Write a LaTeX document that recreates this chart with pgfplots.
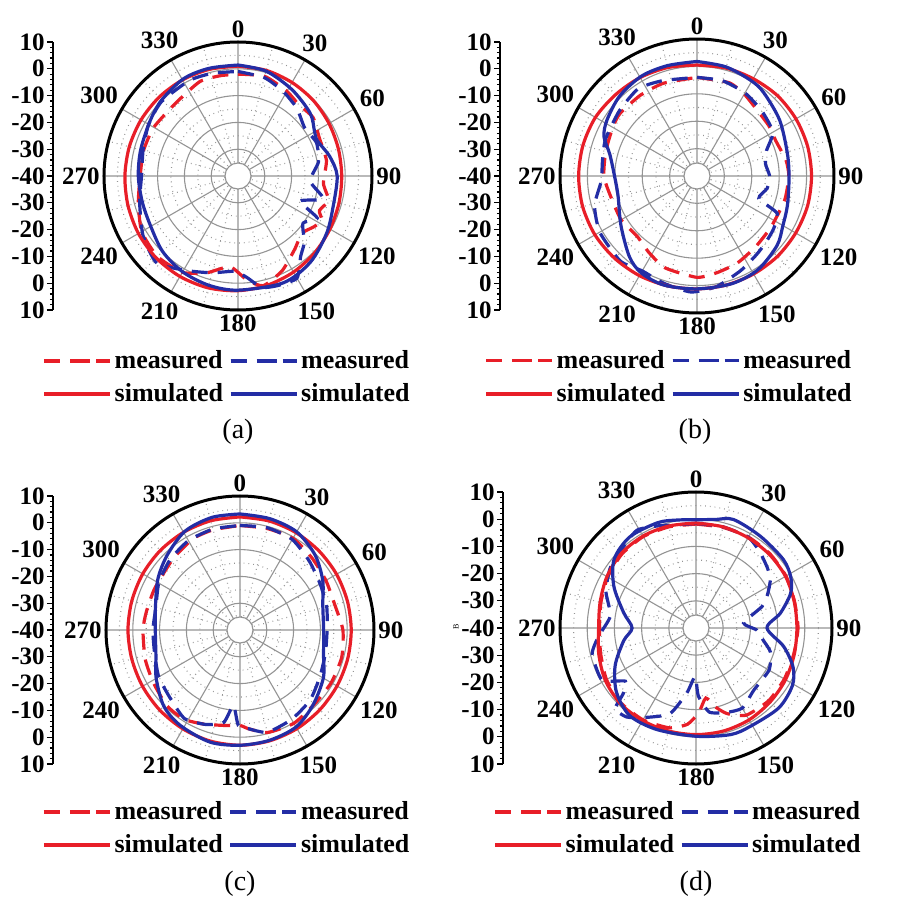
\documentclass[border=0pt]{standalone}
\usepackage{pgfplots}
\pgfplotsset{compat=1.18}
\usepackage{pgfplotstable}
\usepgfplotslibrary{polar}
\usepackage{fontspec}
\setmainfont{Liberation Serif}
\definecolor{rc}{RGB}{232,30,40}
\definecolor{bc}{RGB}{35,45,165}
\newcommand{\ticklab}{\fontsize{12.5}{14}\selectfont\bfseries}
\newcommand{\legfont}{\fontsize{13}{15}\selectfont\bfseries}

% ---------------- panel (a) ----------------
\pgfplotstableread{
a db
0 -2
15 -1.5
30 -3.5
40 -5
52 -4.5
65 -6.5
80 -6.5
95 -8
105 -5
113 -7
118 -4.5
124 -6
132 -8
142 -5.5
155 -1
167 2
175 -1
185 -6
198 -2
210 1.5
225 2.5
240 1.5
255 -1.5
270 -3.5
285 -3.5
300 -3.7
320 -4.2
338 -2
350 -2
360 -2
}\aRM
\pgfplotstableread{
a db
0 -1
15 -2
28 -4.2
41 -6.5
54 -9.3
67 -8.2
80 -9.5
94 -13
105 -7
112 -15
118 -6.5
126 -10
135 -5
142 -2
150 4
160 3.5
168 2.5
175 -2
182 -4.4
195 -2.6
208 0
223 4.4
238 1.8
255 -2
270 -4
286 -3.2
300 -1.5
314 -0.2
333 0
346 -0.5
360 -1
}\aBM
\pgfplotstableread{
a db
0 1.0
15 0.8
30 0.3
45 -0.2
60 -0.8
75 -1.2
90 -1.3
105 -1.0
120 -0.4
135 0.5
150 1.4
165 2.2
180 2.8
195 3.2
210 3.3
225 3.2
240 2.9
255 2.5
270 2.2
285 2.0
300 1.8
315 1.6
330 1.4
345 1.2
360 1.0
}\aRS
\pgfplotstableread{
a db
0 1.4
15 0.5
32 -2.0
49 -4.3
60 -7.0
66 -7.6
78 -5.0
90 -3.0
108 -2.7
123 -0.6
140 2.0
157 3.3
180 2.6
195 2.2
210 1.3
225 -0.2
241 -2.5
255 -3.0
270 -2.8
285 -2.4
302 -1.3
315 0.2
331 1.6
345 1.6
360 1.4
}\aBS

% ---------------- panel (b) ----------------
\pgfplotstableread{
a db
0 -4
19 -4
30 -5.5
41 -7.3
55 -8
66 -8.5
80 -7
90 -6.5
105 -6.8
124 -7.2
140 -6.5
155 -5
168 -4
180 -3
199 -4.5
212 -7
225 -9
240 -8
258 -7.5
270 -6
285 -5.5
300 -4.5
309 -3.8
325 -4
340 -4
360 -4
}\bRM
\pgfplotstableread{
a db
0 -4
15 -4
30 -5
45 -6.5
60 -8
70 -13
80 -14.6
90 -13.5
100 -14
110 -16
115 -7.7
125 -6
135 -5
143 -4
155 -2
170 1
183 2.4
197 1
210 0
222 1.8
240 1
254 -1.1
267 -5
280 -5
292 -4
310 -3
326 -1.6
340 -3
360 -4
}\bBM
\pgfplotstableread{
a db
0 0.5
15 0.8
30 1.0
45 1.5
60 1.7
75 1.8
90 1.8
105 1.8
120 1.6
135 1.5
150 1.3
165 1.2
180 1.2
195 1.5
210 2.0
225 2.5
240 3.0
255 3.2
270 3.2
285 3.1
300 2.8
315 2.0
330 1.5
345 1.0
360 0.5
}\bRS
\pgfplotstableread{
a db
0 1.8
15 1.2
30 0
39 -1.1
56 -3.6
76 -6
91 -6.4
108 -5.3
120 -3.8
131 -1.3
147 0.8
162 1.3
180 1.2
197 1.6
210 0.8
220 -1.6
237 -6.9
256 -10.3
269 -10
284 -7.2
293 -3.1
302 -1.3
316 0.6
331 1.7
345 1.7
360 1.8
}\bBS

% ---------------- panel (c) ----------------
\pgfplotstableread{
a db
0 -1
15 -0.8
30 -0.5
45 -2
60 -3
75 -3.4
90 -1.6
105 -0.7
120 -0.7
135 -0.8
150 0.2
165 -0.4
175 -3
180 -4.4
188 -4
201 -2.4
212 -0.7
224 -0.7
239 -2.2
253 -3
270 -3.8
281 -4.4
296 -4.6
317 -3.5
333 -1.7
345 -1.3
360 -1
}\cRM
\pgfplotstableread{
a db
0 -1
15 -0.5
30 -1
45 -3.5
60 -5.5
75 -6.5
90 -7.5
105 -7
120 -5.5
135 -3
150 -1.5
165 -0.5
175 -3
181 -4.4
185 -11.8
190 -5
200 -2.5
212 -1
225 -3.5
240 -5
255 -7
270 -7.5
285 -7.5
300 -5
315 -3
330 -1.5
345 -1
360 -1
}\cBM
\pgfplotstableread{
a db
0 2.2
15 2.1
30 1.9
45 1.7
60 1.6
75 1.5
90 1.5
105 1.6
120 1.8
135 2.1
150 2.5
165 2.8
180 3.0
195 2.9
210 2.6
225 2.3
240 2.0
255 1.8
270 1.8
285 1.8
300 1.9
315 2.0
330 2.1
345 2.2
360 2.2
}\cRS
\pgfplotstableread{
a db
0 3.3
15 3.0
30 2.3
45 -0.4
59 -4
73 -7.7
90 -8.8
107 -7.4
120 -4.1
136 -0.9
150 1.8
165 2.6
180 3.0
195 3.3
212 2.0
225 0.2
240 -3.9
253 -7.2
270 -8.4
286 -7.2
302 -3.9
316 -1.0
331 2.2
346 3.3
360 3.3
}\cBS

% ---------------- panel (d) ----------------
\pgfplotstableread{
a db
0 -1.8
15 -1.7
30 -1.4
45 -1.5
60 -1.8
75 -2.5
90 -2.5
105 -2.8
120 -2.5
135 -2.2
150 -3
160 -6.5
166 -10
172 -14
178 -9
185 -4.5
195 -2
210 -1
225 -1
240 -2
255 -3.7
270 -4.5
285 -3.8
300 -2.5
315 -1.5
330 -1.2
345 -1.5
360 -1.8
}\dRM
\pgfplotstableread{
a db
0 -1.5
15 -1.5
30 -1.5
40 -3.5
50 -5.7
57 -7.4
65 -11
72 -14.5
84 -22.4
92 -17.6
100 -15
108 -11.2
120 -9
137 -8.8
150 -6
160 -7
171 -8.7
178 -15
181 -22.2
188 -15.9
197 -7
210 -2
218 1.5
225 2
228 -4
233 -7.5
241 -0.5
256 -0.7
265 -4
278 -8.2
292 -4.3
305 -1.5
318 0
329 2
340 0
350 -1.5
360 -1.5
}\dBM
\pgfplotstableread{
a db
0 -1.4
15 -1.5
30 -1.7
45 -1.8
60 -2
75 -2.6
90 -2.9
105 -2.6
120 -2
135 -1.5
150 -1
165 -0.8
180 -0.8
195 -0.8
210 -0.7
225 -0.7
240 -1.5
255 -3
270 -4.2
285 -3.5
300 -2.2
315 -1.2
330 -1
345 -1.2
360 -1.4
}\dRS
\pgfplotstableread{
a db
0 -0.2
10 0.5
19 2.2
35 1.2
52 0.8
62 -0.5
70 -3
80 -8.5
90 -13.9
102 -7
112 -1.5
121 1.3
134 2.3
151 1.3
162 1.2
180 -0.2
201 0
217 0.4
231 -2.4
245 -7.2
260 -13
270 -16.5
282 -12.8
297 -6.1
310 -0.7
324 1.4
340 1.2
350 0.3
360 -0.2
}\dBS

\pgfplotsset{
  pol/.style={
    scale only axis, anchor=center,
    xmin=0, xmax=360, ymin=0, ymax=50,
    xtick={0,30,...,330},
    xticklabels={90,60,30,0,330,300,270,240,210,180,150,120},
    minor xtick={15,45,...,345},
    ytick={10,20,30,40},
    yticklabel style={opacity=0},
    minor ytick={5,15,25,35,45},
    grid=both,
    major grid style={draw=black!42, line width=0.55pt},
    minor grid style={draw=black!42, dotted, line width=0.55pt},
    separate axis lines,
    x axis line style={line width=1.5pt, black},
    y axis line style={draw=none},
    major tick length=0pt, minor tick length=0pt,
    tick style={draw=none},
    xticklabel style={font=\ticklab, inner sep=2pt},
    clip=false,
    legend columns=2,
    legend cell align=left,
    legend style={draw=none, fill=none, font=\legfont, inner sep=0pt,
      nodes={inner sep=1.5pt}, row sep=3pt,
      /tikz/every even column/.append style={column sep=1.5pt}},
  },
  ruler/.style={
    scale only axis, anchor=west, width=20pt,
    xmin=0, xmax=1, ymin=-50, ymax=50,
    axis x line=none, axis y line=left,
    axis line style={-, line width=0.9pt, black},
    ytick={-50,-40,...,50},
    yticklabels={10,0,-10,-20,-30,-40,-30,-20,-10,0,10},
    minor y tick num=4, tick align=outside,
    major tick length=3pt, minor tick length=1.6pt,
    tick style={black, line width=0.6pt},
    yticklabel style={font=\ticklab, inner sep=1pt},
  },
  meas/.style={line width=1.6pt, dash pattern=on 8pt off 5pt, smooth, tension=0.35,
    legend image code/.code={\draw[##1, dash pattern=on 7.5pt off 8pt] (0pt,0pt) -- (24pt,0pt); \path (0pt,0pt) -- (33pt,0pt);}},
  simu/.style={line width=1.6pt, smooth, tension=0.5,
    legend image code/.code={\draw[##1] (0pt,0pt) -- (33pt,0pt);}},
}
\newcommand{\hole}{\fill[white] (axis cs:0,0) circle[radius=6.5pt]; \draw[black!42, line width=0.55pt] (axis cs:0,0) circle[radius=6.5pt];}
\newcommand{\curves}[4]{%
  \addplot[meas, rc] table[x expr={90-\thisrow{a}}, y expr={\thisrow{db}+40}] {#1};
  \addlegendentry{measured}
  \addplot[meas, bc] table[x expr={90-\thisrow{a}}, y expr={\thisrow{db}+40}] {#2};
  \addlegendentry{measured}
  \addplot[simu, rc] table[x expr={90-\thisrow{a}}, y expr={\thisrow{db}+40}] {#3};
  \addlegendentry{simulated}
  \addplot[simu, bc] table[x expr={90-\thisrow{a}}, y expr={\thisrow{db}+40}] {#4};
  \addlegendentry{simulated}
}

\begin{document}
\begin{tikzpicture}
\path[use as bounding box] (0,0) rectangle (450.5pt,450.5pt);

% (a)
\begin{axis}[ruler, at={(26.5pt,362.5pt)}, height=134pt]
\end{axis}
\begin{polaraxis}[pol, at={(119pt,362.5pt)}, width=134pt, height=134pt,
  legend style={at={(-0.231,-0.138)}, anchor=north west}]
\hole
\curves{\aRM}{\aBM}{\aRS}{\aBS}
\end{polaraxis}
\node[font=\fontsize{14}{16}\selectfont] at (119pt,234.5pt) {(a)};

% (b)
\begin{axis}[ruler, at={(250pt,362.5pt)}, height=134pt]
\end{axis}
\begin{polaraxis}[pol, at={(348.5pt,362.5pt)}, width=137pt, height=137pt,
  legend style={at={(-0.277,-0.124)}, anchor=north west}]
\hole
\curves{\bRM}{\bBM}{\bRS}{\bBS}
\end{polaraxis}
\node[font=\fontsize{14}{16}\selectfont] at (347.5pt,234.5pt) {(b)};

% (c)
\begin{axis}[ruler, at={(26.5pt,135.5pt)}, height=134pt]
\end{axis}
\begin{polaraxis}[pol, at={(120pt,135.5pt)}, width=134pt, height=134pt,
  legend style={at={(-0.239,-0.127)}, anchor=north west}]
\hole
\curves{\cRM}{\cBM}{\cRS}{\cBS}
\end{polaraxis}
\node[font=\fontsize{14}{16}\selectfont] at (120pt,8.5pt) {(c)};

% (d)
\begin{axis}[ruler, at={(251.5pt,136.5pt)}, height=136pt]
\end{axis}
\begin{polaraxis}[pol, at={(348pt,136.5pt)}, width=136pt, height=136pt,
  legend style={at={(-0.246,-0.125)}, anchor=north west}]
\hole
\curves{\dRM}{\dBM}{\dRS}{\dBS}
\end{polaraxis}
\node[font=\fontsize{14}{16}\selectfont] at (348pt,8.5pt) {(d)};
\node[rotate=90, font=\fontsize{4}{5}\selectfont] at (228pt,137pt) {B};

\end{tikzpicture}
\end{document}
